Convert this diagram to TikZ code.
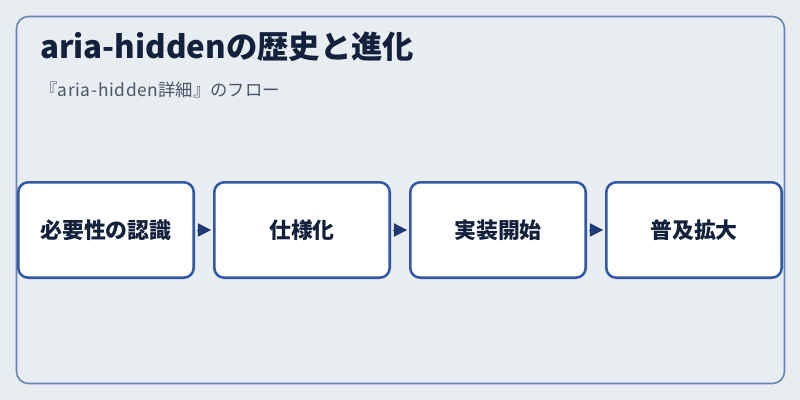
\documentclass[tikz,border=0pt]{standalone}
\usepackage{fontspec}
\setmainfont{Noto Sans CJK JP}
\newfontfamily\latfont{Noto Sans CJK JP}[LetterSpace=4]
\usetikzlibrary{arrows.meta}
\definecolor{bgc}{HTML}{E8EDF2}
\definecolor{framec}{HTML}{6B85B6}
\definecolor{boxc}{HTML}{3458A3}
\definecolor{arrc}{HTML}{1E3A75}
\definecolor{titlec}{HTML}{14213D}
\definecolor{subc}{HTML}{4A5568}
\tikzset{
  stepbox/.style={draw=boxc, line width=1.9pt, fill=white, rounded corners=7.5pt,
    minimum width=131.6pt, minimum height=71.6pt, inner sep=0pt,
    font=\bfseries\fontsize{16.4pt}{19pt}\selectfont, text=titlec},
  flowarrow/.style={draw=arrc, line width=0.4pt, fill=arrc,
    -{Triangle[length=9.8pt,width=10pt]}, shorten <=1.5pt, shorten >=1.5pt}
}
\begin{document}
\begin{tikzpicture}[x=0.75pt,y=-0.75pt]
\path[fill=bgc] (0,0) rectangle (800,400);
\useasboundingbox (0,0) rectangle (800,400);
\draw[framec, line width=1.2pt, rounded corners=9pt] (16.5,16.5) rectangle (784.5,383.5);
\node[anchor=base west, inner sep=0pt, text=titlec, font=\bfseries\fontsize{23.5pt}{27pt}\selectfont] (title) at (40,58) {aria-hiddenの歴史と進化};
\node[anchor=base west, inner sep=0pt, text=subc, font=\fontsize{13pt}{15pt}\selectfont] (sub) at (40,96) {『{\latfont aria-hidden}詳細』のフロー};
\node[stepbox] (s1) at (106,230) {必要性の認識};
\node[stepbox] (s2) at (302,230) {仕様化};
\node[stepbox] (s3) at (498,230) {実装開始};
\node[stepbox] (s4) at (694,230) {普及拡大};
\draw[flowarrow] (s1.east) -- (s2.west);
\draw[flowarrow] (s2.east) -- (s3.west);
\draw[flowarrow] (s3.east) -- (s4.west);
\end{tikzpicture}
\end{document}
